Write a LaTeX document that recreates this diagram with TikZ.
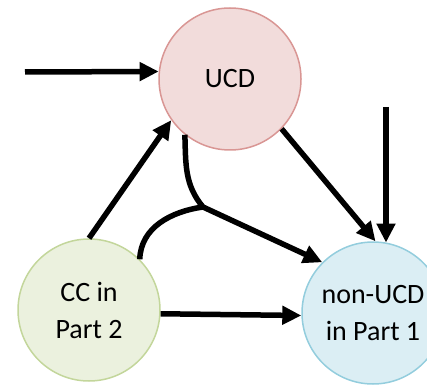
\documentclass[tikz,border=0pt]{standalone}
\usepackage{fontspec}
\setmainfont{Carlito}
\usetikzlibrary{arrows.meta}
\definecolor{ucdfill}{HTML}{F2DCDB}
\definecolor{ucdline}{HTML}{D99694}
\definecolor{ccfill}{HTML}{EBF1DE}
\definecolor{ccline}{HTML}{C3D69B}
\definecolor{nonfill}{HTML}{DBEEF4}
\definecolor{nonline}{HTML}{93CDDD}
\tikzset{
  state/.style={circle, minimum size=142pt, inner sep=0pt, line width=1.5pt,
    align=center, font=\fontsize{28}{37}\selectfont},
  link/.style={line width=5.5pt, -{Triangle[length=19pt,width=18pt]}},
  plain/.style={line width=5.5pt},
}
\begin{document}
\begin{tikzpicture}[x=1pt, y=-1pt]
  \useasboundingbox (0,0) rectangle (427,387);
  \clip (0,0) rectangle (427,387);
  % the three variables
  \node[state, fill=ucdfill, draw=ucdline] (ucd) at (230,79) {UCD};
  \node[state, fill=ccfill, draw=ccline] (cc) at (89,310) {CC in\\Part 2};
  \node[state, fill=nonfill, draw=nonline] (non) at (373,313) {non-UCD\\in Part 1};
  % free ends of the external inputs and the merge point
  \coordinate (inU) at (25,72);
  \coordinate (inN) at (386,107);
  \coordinate (j) at (203,207);
  % arrows
  \draw[link] (inU) -- (ucd.174.4);
  \draw[link] (inN) -- (inN |- non.79.5);
  \draw[link] (cc.90) -- (ucd.215);
  \draw[link] (ucd.-44) -- (non.88);
  \draw[link] (cc.-3) -- (non.182.4);
  % joint effect: two curves merging into one arrow
  \draw[plain] (cc.45) to[out=88, in=188] (j);
  \draw[link] (ucd.231) to[out=-88, in=130] (j) -- (non.135);
\end{tikzpicture}
\end{document}
